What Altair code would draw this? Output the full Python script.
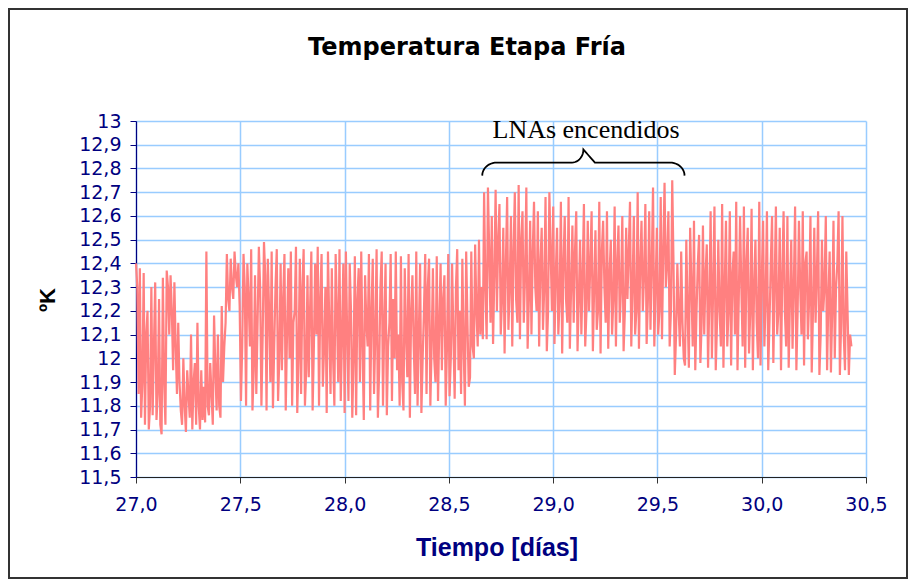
import numpy as np
import pandas as pd
import altair as alt

# ---------------- data ----------------
seg_a = [12.40, 12.30, 11.85, 12.38, 11.75, 11.90, 12.36, 11.72, 12.10, 12.20,
         11.70, 11.80, 12.30, 11.76, 12.05, 12.32, 11.74, 11.85, 12.25, 11.72]
seg_b = [11.68, 12.34, 11.90, 11.72, 12.37, 12.30, 12.10, 12.35, 12.20, 11.95,
         12.32, 12.05, 11.85, 12.15, 11.90, 11.78]
seg_c = [11.72, 12.00, 11.80, 11.69, 11.95, 11.85, 11.75, 12.10, 11.70, 11.90,
         11.98, 11.72, 12.15, 11.80, 11.70, 11.95, 11.74, 11.88]
seg_d = [11.73, 12.45, 11.80, 11.76, 11.98, 11.85, 11.72, 12.18, 11.95, 11.78,
         12.10, 11.80, 11.75, 12.22, 11.90, 12.05]
seg_e = [12.15, 12.44, 12.25, 12.20, 12.42, 12.30, 12.25, 12.45, 12.35, 12.30, 12.40]
seg_f = [12.22, 11.82, 12.05, 12.44, 12.30, 11.80, 12.40, 12.25, 12.05, 12.46,
         11.78, 11.95, 12.35, 11.85, 12.15, 12.47, 12.30, 11.80, 12.10, 12.49,
         12.35, 11.78, 12.42, 12.20, 11.90, 12.45, 11.79, 12.05, 12.30, 12.46,
         11.82, 12.00, 12.40, 11.95, 12.25, 12.44, 11.78, 12.10, 12.38, 12.00,
         12.45, 11.80, 12.15, 12.20, 12.47, 11.77, 12.00, 12.42, 11.85, 12.30,
         12.46, 11.80, 11.95, 12.35, 11.92, 12.20, 12.45, 11.78, 12.05, 12.40,
         12.10, 12.47, 11.80, 12.25, 12.44, 11.88, 12.05, 12.30, 11.77, 12.45,
         12.15, 11.85, 12.38, 12.00, 11.80, 12.44, 12.20, 11.90, 12.46, 11.82,
         12.10, 12.40]
seg_g = [11.77, 12.45, 12.10, 11.82, 12.40, 12.20, 11.75, 12.00, 12.43, 11.76,
         12.25, 12.38, 11.90, 12.45, 12.05, 11.74, 12.35, 12.15, 12.05, 12.44,
         11.78, 12.20, 12.42, 11.85, 12.10, 12.46, 11.75, 11.95, 12.30, 12.45,
         11.80, 12.15, 12.40, 11.76, 12.05, 12.15, 12.44, 11.82, 12.25, 12.00,
         12.45, 11.95, 12.10, 11.80, 12.43, 11.90, 11.78, 12.38, 12.10, 11.92,
         12.44, 11.75, 12.20, 12.35, 12.05, 11.85, 12.45, 11.80, 12.10, 12.40,
         11.77, 12.00, 12.20, 12.44, 11.85, 12.30, 12.42, 11.80, 12.05, 12.38,
         12.00, 11.90, 12.43, 11.82, 12.15, 12.40, 11.95, 12.25, 12.35, 11.80,
         12.05, 12.44, 11.84, 12.00, 12.40, 12.10, 11.83, 12.30, 12.46, 11.95,
         12.20, 11.85, 12.42, 12.05, 11.80, 12.45, 12.15, 11.88]
seg_h = [11.92, 12.45, 12.05, 12.00, 12.48, 12.20, 12.05, 12.50, 12.10, 12.30, 12.08]
seg_i = [12.70, 12.30, 12.08, 12.72, 12.45, 12.15, 12.60, 12.06, 12.35, 12.71,
         12.20, 12.50, 12.65, 12.10, 12.25, 12.55, 12.02, 12.40, 12.68, 12.12,
         12.30, 12.60, 12.05, 12.45, 12.70, 12.25, 12.15, 12.73, 12.08, 12.50,
         12.62, 12.15, 12.35, 12.72, 12.04, 12.25, 12.58, 12.10, 12.45, 12.66,
         12.30, 12.20, 12.62, 12.05, 12.40, 12.55, 12.12, 12.30, 12.68, 12.03,
         12.20, 12.70, 12.45, 12.20, 12.64, 12.06, 12.35, 12.55, 12.10, 12.25,
         12.66, 12.02, 12.40, 12.60, 12.25, 12.15, 12.68, 12.04, 12.30, 12.56,
         12.15, 12.45, 12.62, 12.03, 12.25, 12.50, 12.10, 12.35, 12.65, 12.05,
         12.20, 12.58, 12.20, 12.40, 12.62, 12.03, 12.30, 12.54, 12.12, 12.20,
         12.66, 12.02, 12.45, 12.58, 12.30, 12.15, 12.62, 12.04, 12.35, 12.50,
         12.10, 12.25, 12.64, 12.05, 12.40, 12.56, 12.15, 12.30, 12.60, 12.03,
         12.20, 12.55, 12.25, 12.45, 12.66, 12.05, 12.30, 12.60, 12.10, 12.20,
         12.70, 12.04, 12.40, 12.58, 12.20, 12.35, 12.65, 12.06, 12.25, 12.62,
         12.12, 12.40, 12.72, 12.05, 12.30, 12.55, 12.10, 12.20, 12.68, 12.08,
         12.45, 12.74, 12.30, 12.40, 12.62, 12.05, 12.20, 12.75, 12.40, 11.93,
         12.10, 12.40, 12.20, 12.05, 12.45, 12.15, 12.00]
seg_j = [11.97, 12.50, 12.20, 11.96, 12.55, 12.30, 12.05, 12.58, 11.95, 12.20,
         12.40, 12.52, 11.98, 12.15, 12.56, 12.10, 12.35, 12.48, 11.96, 12.25,
         12.62, 12.00, 12.30, 12.64, 11.95, 12.15, 12.50, 12.20, 12.05, 12.65,
         11.96, 12.30, 12.58, 12.05, 12.20, 12.62, 11.97, 12.35, 12.45, 12.10,
         12.66, 11.95, 12.25, 12.60, 12.30, 12.05, 12.64, 11.96, 12.40, 12.55,
         12.02, 12.20, 12.63, 11.95, 12.30, 12.50, 12.15, 12.00, 12.66, 11.97,
         12.35, 12.58, 12.05, 12.25, 12.62, 11.95, 12.15, 12.40, 12.60, 11.98,
         12.30, 12.64, 12.10, 12.20, 12.55, 11.95, 12.35, 12.62, 12.20, 12.05,
         12.60, 11.96, 12.25, 12.50, 12.04, 12.30, 12.64, 11.95, 12.20, 12.58,
         12.30, 12.10, 12.62, 11.97, 12.40, 12.45, 12.08, 12.25, 12.60, 11.94,
         12.20, 12.55, 12.15, 12.35, 12.62, 11.93, 12.10, 12.50, 12.20, 12.30,
         12.60, 11.95, 12.25, 12.45, 11.94, 12.20, 12.58, 12.00, 12.30, 12.40,
         12.62, 11.93, 12.15, 12.60, 12.10, 11.95, 12.45, 12.20, 11.93, 12.10,
         12.05]

temps = seg_a + seg_b + seg_c + seg_d + seg_e + seg_f + seg_g + seg_h + seg_i + seg_j
t_start, t_end = 27.0, 30.43          # sampling span of the record (days)

x_ticks = [27.0, 27.5, 28.0, 28.5, 29.0, 29.5, 30.0, 30.5]
y_ticks = [11.5, 11.6, 11.7, 11.8, 11.9, 12.0, 12.1, 12.2, 12.3, 12.4,
           12.5, 12.6, 12.7, 12.8, 12.9, 13.0]

title_text = "Temperatura Etapa Fría"
x_title = "Tiempo [días]"
y_title = "ºK"
note_text = "LNAs encendidos"
lna_on, lna_off = 28.66, 29.63        # brace span (days)
brace_low, brace_arm, brace_tip = 12.77, 12.825, 12.88

# ---------------- tables ----------------
df = pd.DataFrame({"t": np.linspace(t_start, t_end, len(temps)), "temp": temps})

# curly-brace path in data units
rx_end, rx_mid = 0.07, 0.055
mid = (lna_on + lna_off) / 2
phi = np.linspace(0, np.pi / 2, 12)
bx, by = [], []
bx += list(lna_on + rx_end - rx_end * np.cos(phi)); by += list(brace_low + (brace_arm - brace_low) * np.sin(phi))
bx += list(mid - rx_mid + rx_mid * np.sin(phi)); by += list(brace_tip - (brace_tip - brace_arm) * np.cos(phi))
bx += list(mid + rx_mid - rx_mid * np.cos(phi)); by += list(brace_arm + (brace_tip - brace_arm) * np.cos(phi))
bx += list(lna_off - rx_end + rx_end * np.sin(phi)); by += list(brace_low + (brace_arm - brace_low) * np.cos(phi))
brace = pd.DataFrame({"t": bx, "temp": by, "o": range(len(bx))})

one = pd.DataFrame({"k": [0]})

# ---------------- chart ----------------
NAVY = "#000080"
GRID = "#99CCFF"
xs = alt.Scale(domain=[27.0, 30.5], nice=False, zero=False)
ys = alt.Scale(domain=[11.5, 13.0], nice=False, zero=False)
xaxis = alt.Axis(values=x_ticks, title=None,
                 labelExpr="replace(format(datum.value, '.1f'), '.', ',')",
                 labelFont="DejaVu Sans", labelFontSize=19, labelColor=NAVY,
                 labelPadding=12, labelFlush=False, labelOverlap=False,
                 tickColor="#333333", tickSize=6, domainColor="#222222", domainWidth=1.2,
                 grid=True, gridColor=GRID, gridWidth=1.5)
yaxis = alt.Axis(values=y_ticks, title=None,
                 labelExpr="replace(format(datum.value, '.3~g'), '.', ',')",
                 labelFont="DejaVu Sans", labelFontSize=19, labelColor=NAVY,
                 labelPadding=9, labelFlush=False, labelOverlap=False,
                 tickColor=NAVY, tickSize=6, domainColor=NAVY, domainWidth=1.2,
                 grid=True, gridColor=GRID, gridWidth=1.5)

line = alt.Chart(df).mark_line(color="#FF8080", strokeWidth=2.2).encode(
    x=alt.X("t:Q", scale=xs, axis=xaxis),
    y=alt.Y("temp:Q", scale=ys, axis=yaxis),
)

brace_layer = alt.Chart(brace).mark_line(color="black", strokeWidth=1.8).encode(
    x=alt.X("t:Q", scale=xs, axis=xaxis),
    y=alt.Y("temp:Q", scale=ys, axis=yaxis),
    order="o:Q",
)

note = alt.Chart(one).mark_text(text=note_text, font="Liberation Serif", fontSize=26,
                                color="black", align="center", baseline="alphabetic").encode(
    x=alt.value(450), y=alt.value(17))

title = alt.Chart(one).mark_text(text=title_text, font="DejaVu Sans", fontSize=24,
                                 fontWeight="bold", color="black", align="center",
                                 baseline="alphabetic").encode(
    x=alt.value(331), y=alt.value(-66))

xt = alt.Chart(one).mark_text(text=x_title, font="Liberation Sans", fontSize=25,
                              fontWeight="bold", color=NAVY, align="center",
                              baseline="alphabetic").encode(
    x=alt.value(361), y=alt.value(435))

yt = alt.Chart(one).mark_text(text=y_title, font="Liberation Sans", fontSize=22,
                              fontWeight="bold", color="black", align="center",
                              baseline="middle", angle=270).encode(
    x=alt.value(-88), y=alt.value(179))

border = alt.Chart(one).mark_rect(fillOpacity=0, stroke="#333333", strokeWidth=2).encode(
    x=alt.value(-127), x2=alt.value(771), y=alt.value(-112), y2=alt.value(457))

chart = alt.layer(line, brace_layer, note, title, xt, yt, border).properties(
    width=730, height=356,
    autosize=alt.AutoSizeParams(type="none"),
    padding={"left": 128, "top": 113, "right": 42, "bottom": 103},
    background="white",
).configure_view(stroke=None)

chart.save("out.html", embed_options={"renderer": "svg", "actions": False})
